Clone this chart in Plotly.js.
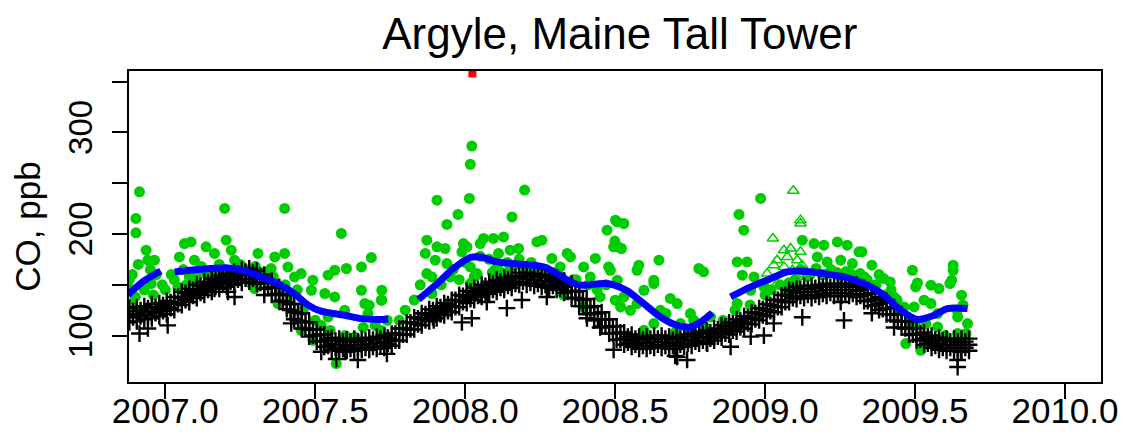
<!DOCTYPE html>
<html>
<head>
<meta charset="utf-8">
<script src="https://cdn.plot.ly/plotly-3.0.1.min.js"></script>
<style>html,body{margin:0;padding:0;background:#fff;}#chart{width:1124px;height:437px;}</style>
</head>
<body>
<div id="chart"></div>
<script>
// ---- Data ----
// Black crosses: band of background CO (x in decimal years)
const blackX = [2006.88,2006.905,2006.93,2006.955,2006.98,2007.005,2007.03,2007.055,2007.08,2007.105,2007.13,2007.155,2007.18,2007.205,2007.23,2007.255,2007.28,2007.305,2007.33,2007.355,2007.38,2007.405,2007.43,2007.455,2007.48,2007.505,2007.53,2007.555,2007.58,2007.605,2007.63,2007.655,2007.68,2007.705,2007.73,2007.755,2007.78,2007.805,2007.83,2007.855,2007.88,2007.905,2007.93,2007.955,2007.98,2008.005,2008.03,2008.055,2008.08,2008.105,2008.13,2008.155,2008.18,2008.205,2008.23,2008.255,2008.28,2008.305,2008.33,2008.355,2008.38,2008.405,2008.43,2008.455,2008.48,2008.505,2008.53,2008.555,2008.58,2008.605,2008.63,2008.655,2008.68,2008.705,2008.73,2008.755,2008.78,2008.805,2008.83,2008.855,2008.88,2008.905,2008.93,2008.955,2008.98,2009.005,2009.03,2009.055,2009.08,2009.105,2009.13,2009.155,2009.18,2009.205,2009.23,2009.255,2009.28,2009.305,2009.33,2009.355,2009.38,2009.405,2009.43,2009.455,2009.48,2009.505,2009.53,2009.555,2009.58,2009.605,2009.63,2009.655,2009.68];
const blackHigh = [127,128,129,131,132,134,138,143,146,150,153,156,159,161,163,165,166,164,160,154,148,140,131,122,113,106,101,98,97,96,97,97,98,99,100,102,107,113,118,122,126,129,132,135,140,144,147,150,153,155,157,159,162,162,161,160,159,157,154,151,144,136,129,123,116,109,103,101,99,99,100,100,99,99,101,102,104,105,107,110,113,116,119,123,127,131,135,140,145,148,149,149,150,151,151,151,151,150,147,142,138,134,128,121,114,107,103,100,98,97,97,97,97];
const blackMid = [120,121,123,124,126,128,132,137,140,144,147,150,153,155,157,159,160,158,153,147,141,133,123,114,106,100,95,92,91,90,91,91,92,93,94,96,101,107,112,116,120,123,126,129,134,138,141,144,147,149,151,153,156,156,155,154,153,151,148,144,136,128,122,116,109,102,97,95,93,93,94,94,93,93,95,96,98,99,101,104,107,110,113,117,121,125,129,134,139,142,143,143,144,145,145,145,145,144,140,135,131,127,121,114,107,101,97,94,92,91,91,91,91];
const blackLow = [113,114,116,117,119,121,125,130,133,137,140,143,146,148,150,152,153,151,146,140,134,126,116,107,99,94,89,86,85,85,85,86,86,87,88,90,95,101,106,110,114,117,120,123,128,132,135,138,141,143,145,147,150,150,149,148,147,145,142,137,129,121,115,109,102,96,91,89,87,87,88,88,87,87,89,90,92,93,95,98,101,104,107,111,115,119,123,128,133,136,137,137,138,139,139,139,139,138,134,129,125,121,115,108,101,95,91,88,86,85,85,85,85];
// Second, staggered set of band samples
const blackX2 = [2006.8925,2006.9175,2006.9425,2006.9675,2006.9925,2007.0175,2007.0425,2007.0675,2007.0925,2007.1175,2007.1425,2007.1675,2007.1925,2007.2175,2007.2425,2007.2675,2007.2925,2007.3175,2007.3425,2007.3675,2007.3925,2007.4175,2007.4425,2007.4675,2007.4925,2007.5175,2007.5425,2007.5675,2007.5925,2007.6175,2007.6425,2007.6675,2007.6925,2007.7175,2007.7425,2007.7675,2007.7925,2007.8175,2007.8425,2007.8675,2007.8925,2007.9175,2007.9425,2007.9675,2007.9925,2008.0175,2008.0425,2008.0675,2008.0925,2008.1175,2008.1425,2008.1675,2008.1925,2008.2175,2008.2425,2008.2675,2008.2925,2008.3175,2008.3425,2008.3675,2008.3925,2008.4175,2008.4425,2008.4675,2008.4925,2008.5175,2008.5425,2008.5675,2008.5925,2008.6175,2008.6425,2008.6675,2008.6925,2008.7175,2008.7425,2008.7675,2008.7925,2008.8175,2008.8425,2008.8675,2008.8925,2008.9175,2008.9425,2008.9675,2008.9925,2009.0175,2009.0425,2009.0675,2009.0925,2009.1175,2009.1425,2009.1675,2009.1925,2009.2175,2009.2425,2009.2675,2009.2925,2009.3175,2009.3425,2009.3675,2009.3925,2009.4175,2009.4425,2009.4675,2009.4925,2009.5175,2009.5425,2009.5675,2009.5925,2009.6175,2009.6425,2009.6675];
const blackHigh2 = [124,125,127,128,130,133,138,142,145,149,152,155,157,159,161,163,162,159,153,147,140,131,122,113,106,101,97,95,94,94,94,95,96,97,98,102,107,113,117,121,125,128,131,135,139,143,146,149,151,153,155,158,159,159,158,157,155,153,149,143,135,128,122,116,109,103,99,97,96,97,97,97,96,97,99,100,102,103,106,109,112,115,118,122,126,130,135,140,144,146,146,147,148,148,148,148,148,145,141,136,132,127,121,114,107,102,99,96,95,94,94,94];
const blackLow2 = [118,119,120,122,124,127,131,135,139,142,145,148,151,153,155,156,156,152,147,141,134,125,115,107,100,94,90,88,87,87,88,88,89,90,92,95,101,106,111,115,118,121,124,128,133,136,139,142,145,147,149,151,153,152,151,150,149,146,143,137,129,122,116,109,102,96,93,91,90,90,91,90,90,91,92,94,95,97,99,102,105,108,112,116,120,124,128,133,137,139,140,140,141,142,142,142,141,139,134,130,126,121,114,107,101,96,92,90,88,88,88,88];
// Black crosses lying away from the band
const blackOutX = [2006.914,2007.008,2006.942,2007.164,2007.209,2007.231,2007.42,2007.52,2007.57,2007.642,2007.60,2007.989,2008.022,2008.139,2008.072,2008.189,2008.272,2008.406,2008.45,2008.495,2007.895,2007.739,2008.707,2008.74,2008.952,2008.996,2009.029,2009.124,2009.263,2009.252,2008.885,2008.807,2009.642,2009.642,2009.356,2009.43,2009.653,2007.33,2008.7];
const blackOutY = [102,110,107,146,143,138,112,84,77,76,84,113,117,127,133,135,138,117,108,86,115,82,79,76,99,100,112,118,115,133,89,92,76,69,122,108,84,140,80];

// Green filled circles: all measurements
const greenX = [2006.914,2006.902,2006.902,2007.198,2007.398,2007.587,2007.064,2007.086,2007.203,2006.936,2007.136,2006.942,2006.964,2007.047,2007.097,2007.164,2007.22,2007.231,2007.309,2007.365,2007.398,2007.353,2007.409,2007.431,2007.453,2007.492,2007.543,2007.565,2007.604,2007.654,2007.687,2007.487,2007.532,2007.565,2007.598,2007.654,2007.665,2007.676,2007.72,2007.543,2007.453,2007.492,2007.570,2007.632,2006.953,2007.042,2007.097,2007.153,2007.22,2007.287,2007.342,2007.298,2006.886,2006.919,2006.875,2007.376,
2006.95,2006.97,2007.02,2007.06,2007.12,2007.18,2007.25,2007.28,2007.33,2007.11,2007.19,2007.26,2006.9,2006.96,2007.0,2007.07,2007.38,2007.42,2007.46,2007.5,2007.52,2007.55,2007.6,2007.66,2007.7,2007.74,2007.72,
2006.99,2007.03,2007.08,2007.14,2007.17,2007.24,2007.3,2007.32,2007.36,2007.4,2007.44,2006.93,2006.88,2006.89,2006.91,
2007.722,2007.722,2007.68,2007.906,2008.022,2008.017,2008.014,2007.976,2007.939,2008.198,2008.156,2007.872,2007.906,2007.933,2007.867,2007.9,2007.872,2007.889,2007.939,2007.994,2008.006,2007.989,2008.05,2008.061,2008.094,2008.128,2008.111,2008.15,2008.178,2008.239,2008.256,2008.106,2008.017,2008.039,2008.206,2008.289,2008.34,2008.351,2008.317,2008.328,2008.395,2008.434,2008.473,2008.501,2008.495,2008.478,2008.417,2008.395,2007.95,2008.017,2008.072,2007.889,
2008.08,2008.14,2008.18,2008.22,2008.27,2008.12,2008.2,2008.25,2007.96,2008.0,2008.05,2007.85,2007.83,2007.8,2007.78,2008.03,2008.1,2008.16,2008.23,2008.3,2008.36,
2007.92,2007.98,2008.04,2008.09,2008.15,2008.2,2008.24,2008.28,2008.32,2008.37,2008.41,2008.44,2008.47,
2008.507,2008.529,2008.51,2008.521,2008.499,2008.579,2008.573,2008.646,2008.779,2008.795,2008.985,2008.913,2008.929,2008.907,2008.94,2008.924,2009.124,2009.163,2009.196,2009.241,2009.274,2009.313,2009.174,2009.207,2009.252,2009.291,2008.484,2008.507,2008.529,2008.573,2008.629,2008.629,2008.596,2008.684,2008.707,2008.751,2008.629,2008.596,2008.551,2008.518,2008.651,2008.718,2008.762,2008.818,2008.907,2008.952,2008.996,2008.963,
2009.0,2009.05,2009.1,2009.15,2009.2,2009.25,2009.3,2009.12,2009.22,2008.9,2008.95,2008.86,2008.8,2008.75,2008.7,2008.6,2008.45,2008.5,2008.67,2009.07,2009.17,2009.27,
2009.02,2009.08,2009.14,2009.19,2009.24,2009.29,2009.33,2009.37,2009.42,2009.44,
2009.323,2009.356,2009.317,2009.395,2009.417,2009.491,2009.508,2009.502,2009.553,2009.58,2009.627,2009.627,2009.622,2009.616,2009.655,2009.43,2009.463,2009.497,2009.53,2009.553,2009.575,2009.536,2009.575,2009.642,2009.675,2009.642,2009.67,2009.519,2009.469,
2009.35,2009.4,2009.45,2009.48,2009.5,2009.6,2009.65,2009.38,2009.34,2009.64,2009.66];
const greenY = [241.5,215.3,201.1,225.1,225.1,200.5,190.6,192.2,193.9,184,187.3,174.2,174.2,177.4,174.2,180.8,184,174.2,180.8,177.4,180.8,166,167.6,157.7,161,154.5,159.4,164.3,166,167.6,176.8,144.6,141.4,138,124.9,144.6,131.5,121.7,134.8,118.3,105.2,95.4,72.4,98.6,151.2,147.9,154.5,157.7,154.5,151.2,154.5,146.3,131.5,124.9,147.9,131.5,
165,160,160,165,168,170,170,165,162,160,162,164,138,140,145,150,145,140,125,115,110,105,100,108,110,115,105,
150,155,158,162,165,168,168,160,158,150,145,145,155,160,170,
144.6,134.8,129.9,233.3,286.5,268.5,235,219.2,209.4,243.2,216.8,193.9,187.3,185.7,180.8,174.2,161,157.7,170.9,190.6,187.3,182.4,190.6,195.6,195.6,197.1,180.8,184,185.7,192.2,193.9,167.6,167.6,161,167.6,175.9,180.8,177.4,167.6,139.7,167.6,175.9,203.7,213.6,187.3,167.6,157.7,128.2,157.7,151.2,147.9,141.4,
175,172,175,172,165,162,160,160,165,172,178,150,135,125,115,158,165,168,166,162,155,
150,155,160,162,165,168,166,160,158,155,150,145,150,
211.9,210.3,187.3,185.7,193,169.3,164.3,174.2,166,162.7,235,219.2,203.7,172.5,172.5,159.4,193.9,190.6,189,192.2,189,182.4,177.4,172.5,174.2,170.9,164.3,154.5,138,131.5,151.2,154.5,144.6,136.5,131.5,121.7,111.8,105.2,124.9,128.2,124.9,111.8,115,118.3,131.5,144.6,147.9,157.7,
140,150,155,160,160,158,155,165,165,125,130,115,108,105,103,100,138,134.8,121.7,145,166,163,
145,152,158,160,162,160,158,150,145,135,
182.4,169.3,161,156.2,152.8,164.3,151.8,147.9,149.6,146.3,169.3,164.3,154.5,151.2,139.7,138,128.2,128.2,134.8,131.5,121.7,111.8,108.5,118.3,111.8,102,102,85.5,92.1,
150,140,125,115,110,100,95,160,155,125,130];

// Open green triangles
const triX = [2009.094,2009.118,2009.118,2009.026,2009.063,2009.085,2009.118,2009.040,2009.074,2009.107,2009.029,2009.123,2009.063,2009.007,2009.091,2009.040,2009.007,2009.107];
const triY = [242.5,213.6,210.3,195.5,184,185.7,182.4,174.2,177.4,174.2,169.3,169.3,167.6,161,164.3,151.2,146.3,157.7];

// Blue smooth curve (null = gap)
const blueX = [2006.875,2006.93,2006.985,null,2007.031,2007.152,2007.209,2007.264,2007.319,2007.376,2007.431,2007.476,2007.519,2007.598,2007.653,2007.710,2007.743,null,2007.844,2007.906,2007.961,2008.017,2008.050,2008.106,2008.184,2008.261,2008.306,2008.351,2008.384,2008.462,2008.500,2008.540,2008.595,2008.651,2008.707,2008.751,2008.785,2008.824,null,2008.885,2008.952,2009.018,2009.074,2009.130,2009.208,2009.263,2009.341,2009.397,2009.452,2009.508,2009.564,2009.608,2009.675];
const blueY = [140,154,163.6,null,162.7,166,166.6,164,157.7,151,141,130,124,120,116.7,115.8,116,null,135.5,151,166,176.8,177.4,172.5,170.2,167.6,161,152.8,149.6,151.2,149.5,144,131.5,118.3,110,108.5,113.4,122.3,null,138,147.9,156,162.7,163.3,160.4,157.7,149.6,139.7,125,115.8,120,126.6,126.6];

// Red square (off-scale value)
const redX = [2008.024];
const redY = [358];

const GREEN = '#00cd00';
const CROSS = {symbol: 'cross-thin-open', size: 12, color: 'black', line: {width: 2.4, color: 'black'}};
const traces = [
  {x: greenX, y: greenY, mode: 'markers', type: 'scatter',
   marker: {symbol: 'circle', size: 11, color: GREEN, line: {width: 0}}},
  {x: blackX, y: blackHigh, mode: 'markers', type: 'scatter', marker: CROSS},
  {x: blackX, y: blackMid, mode: 'markers', type: 'scatter', marker: CROSS},
  {x: blackX, y: blackLow, mode: 'markers', type: 'scatter', marker: CROSS},
  {x: blackX2, y: blackHigh2, mode: 'markers', type: 'scatter', marker: CROSS},
  {x: blackX2, y: blackLow2, mode: 'markers', type: 'scatter', marker: CROSS},
  {x: blackOutX, y: blackOutY, mode: 'markers', type: 'scatter', marker: CROSS},
  {x: triX, y: triY, mode: 'markers', type: 'scatter',
   marker: {symbol: 'triangle-up-open', size: 10, color: GREEN, line: {width: 1.5, color: GREEN}}},
  {x: blueX, y: blueY, mode: 'lines', type: 'scatter', connectgaps: false,
   line: {color: '#0000ff', width: 7, shape: 'spline', smoothing: 0.8}},
  {x: redX, y: redY, mode: 'markers', type: 'scatter',
   marker: {symbol: 'square', size: 8, color: '#ff0000'}}
];

const xTickVals = [2007.0, 2007.5, 2008.0, 2008.5, 2009.0, 2009.5, 2010.0];
const xTickText = ['2007.0', '2007.5', '2008.0', '2008.5', '2009.0', '2009.5', '2010.0'];
const yTickVals = [100, 150, 200, 250, 300, 350];
const yTickText = ['100', '', '200', '', '300', ''];

const FONT = 'Liberation Sans, Arial, Helvetica, sans-serif';
const layout = {
  width: 1124, height: 437,
  margin: {l: 129, r: 23, t: 71, b: 55, pad: 0},
  paper_bgcolor: 'white', plot_bgcolor: 'white',
  showlegend: false,
  font: {family: FONT, color: 'black'},
  title: {text: 'Argyle, Maine Tall Tower', font: {family: FONT, size: 44, color: 'black'},
          xref: 'paper', x: 0.505, xanchor: 'center', yref: 'container', y: 1 - 34/437, yanchor: 'middle'},
  xaxis: {range: [2006.879, 2010.12], tickvals: xTickVals, ticktext: xTickText,
          ticks: 'outside', ticklen: 15, tickwidth: 2, tickcolor: 'black',
          showline: true, mirror: true, linecolor: 'black', linewidth: 2,
          showgrid: false, zeroline: false, tickfont: {family: FONT, size: 35, color: 'black'},
          ticklabelstandoff: -18},
  yaxis: {range: [54.3, 360.4], tickvals: yTickVals, ticktext: yTickText, tickangle: -90,
          ticks: 'outside', ticklen: 15, tickwidth: 2, tickcolor: 'black',
          showline: true, mirror: true, linecolor: 'black', linewidth: 2,
          showgrid: false, zeroline: false, tickfont: {family: FONT, size: 33, color: 'black'},
          ticklabelstandoff: 7,
          title: {text: 'CO, ppb', font: {family: FONT, size: 35, color: 'black'}, standoff: 11}}
};

Plotly.newPlot('chart', traces, layout, {displayModeBar: false, staticPlot: true});
</script>
</body>
</html>
